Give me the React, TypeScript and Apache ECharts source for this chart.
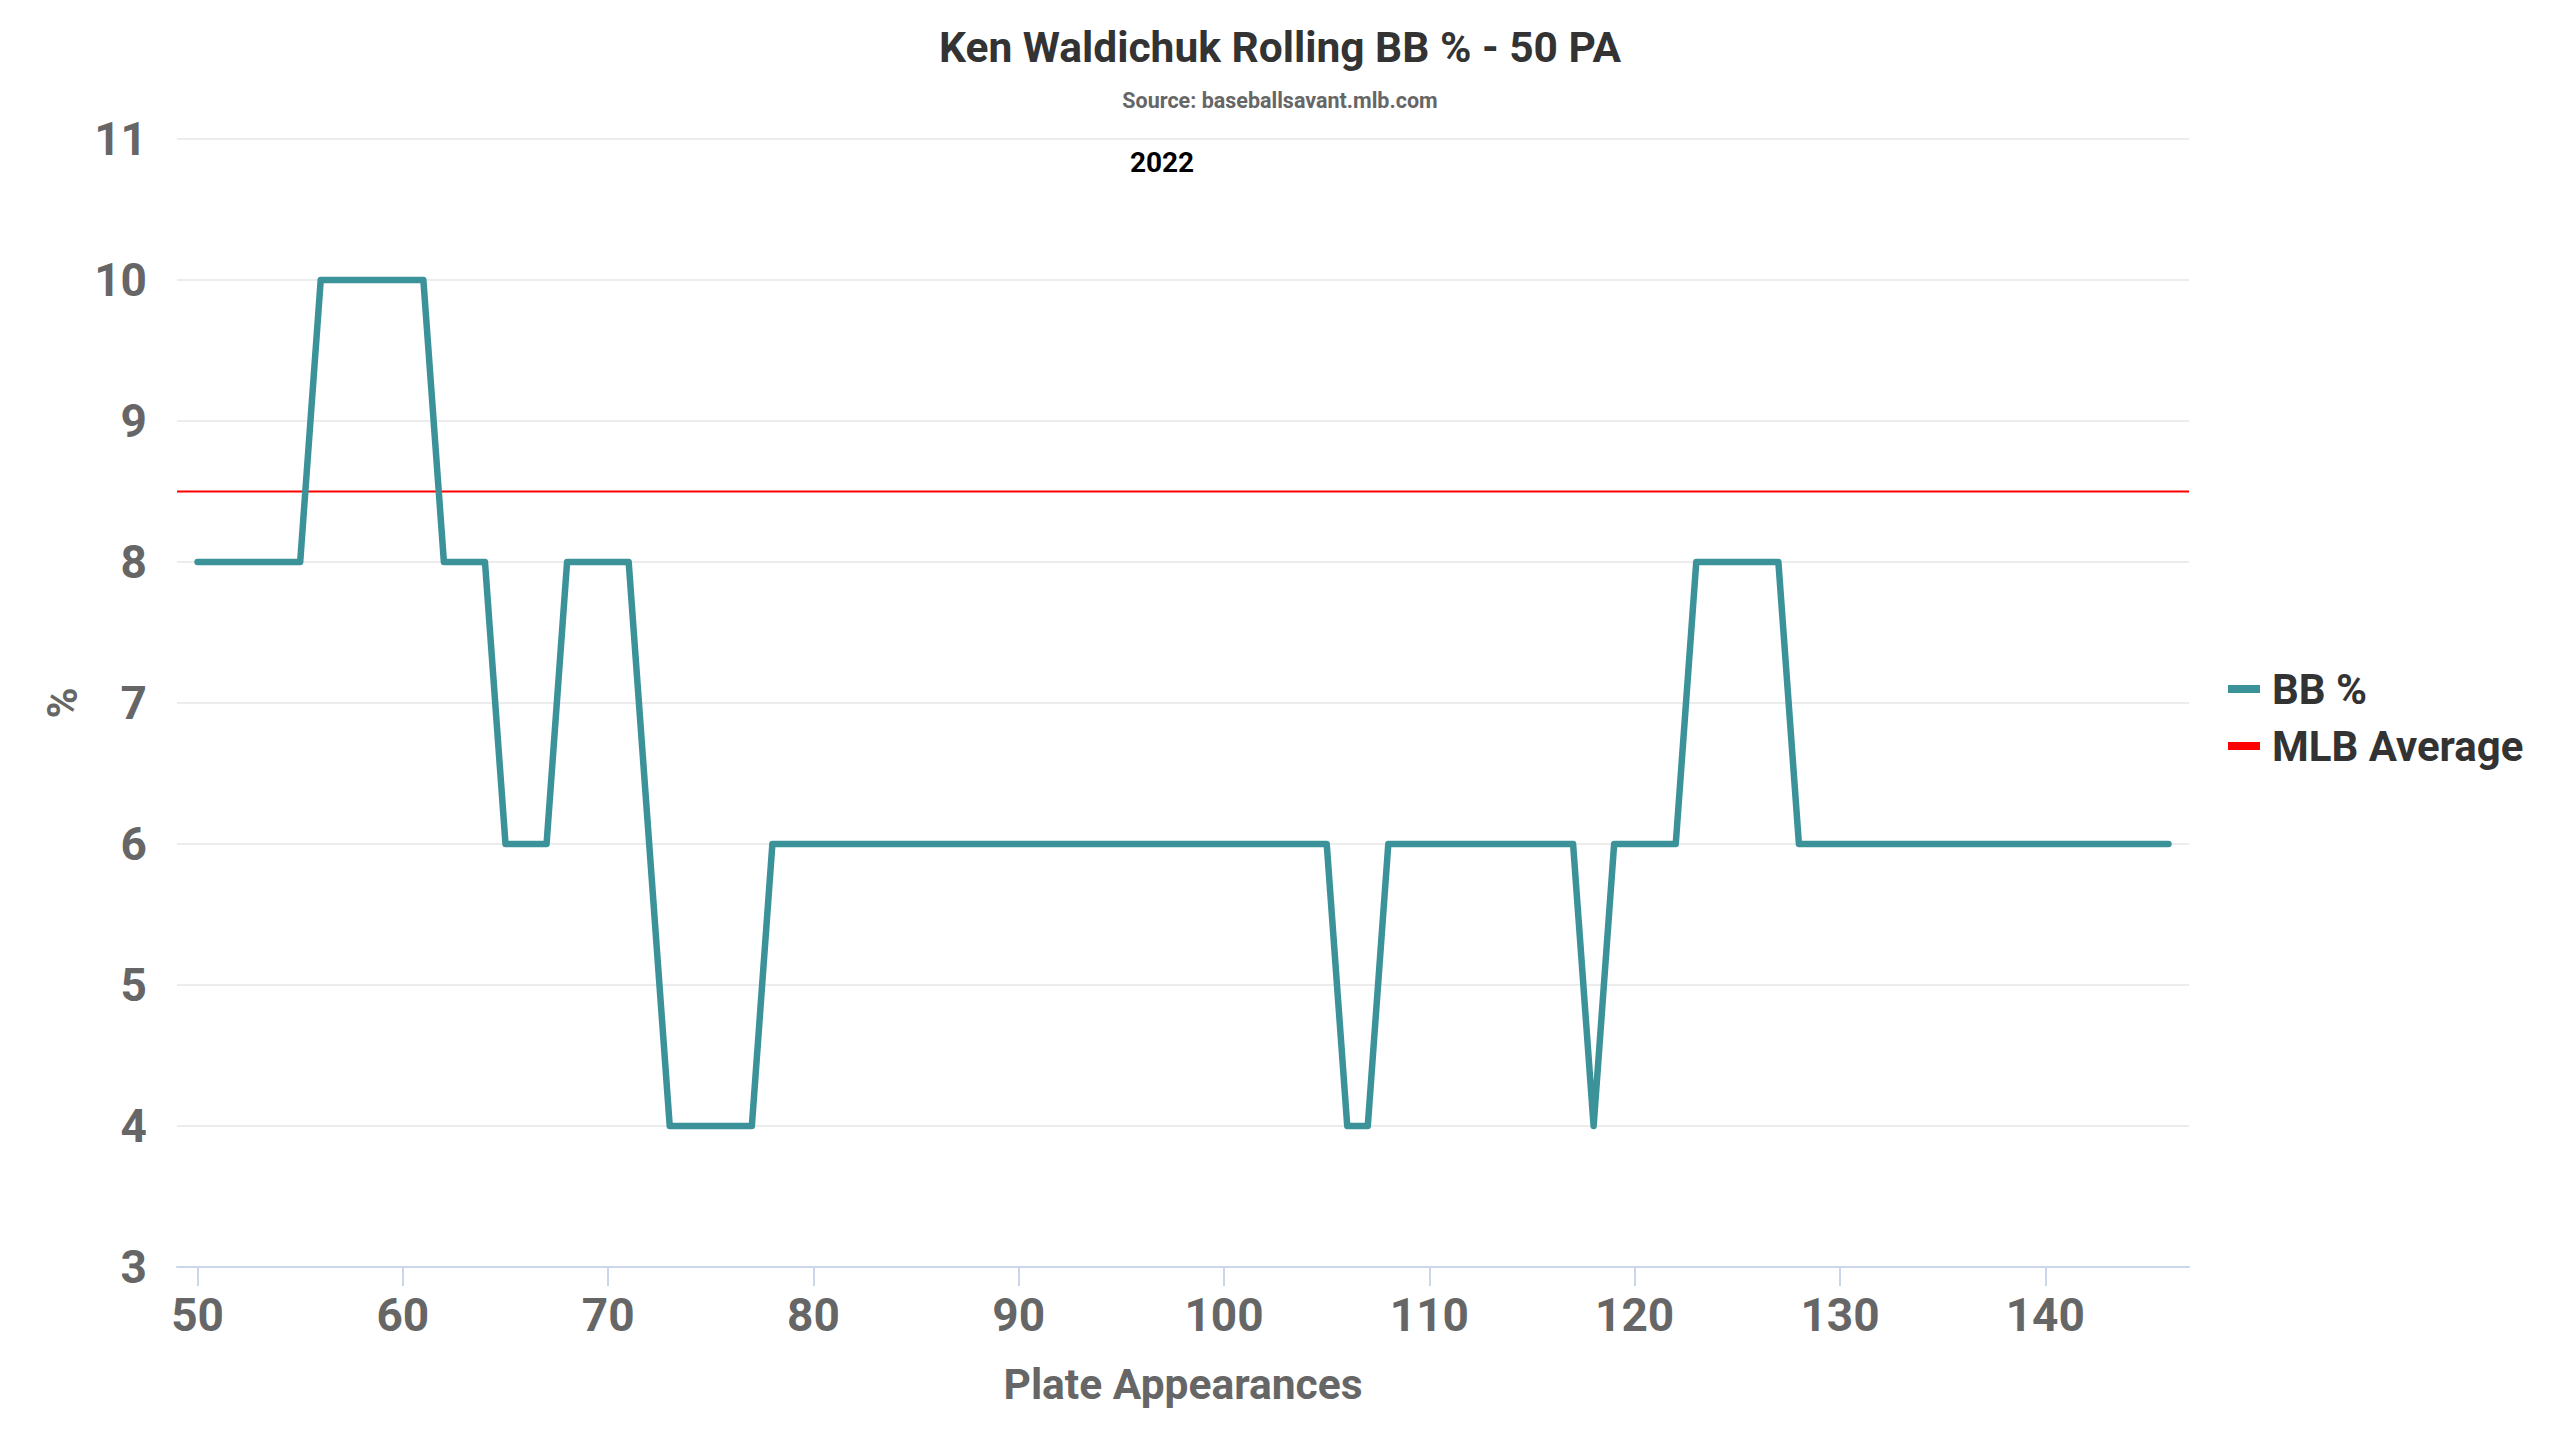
import React, { useEffect, useRef } from "react";
import * as echarts from "echarts";

const TITLE = "Ken Waldichuk Rolling BB % - 50 PA";
const SUBTITLE = "Source: baseballsavant.mlb.com";
const SEASON = "2022";
const SERIES_NAME = "BB %";
const AVG_NAME = "MLB Average";
const X_NAME = "Plate Appearances";
const Y_NAME = "%";

const PLATE_APPEARANCES = [
  50, 51, 52, 53, 54, 55, 56, 57, 58, 59, 60, 61, 62, 63, 64, 65, 66, 67, 68, 69,
  70, 71, 72, 73, 74, 75, 76, 77, 78, 79, 80, 81, 82, 83, 84, 85, 86, 87, 88, 89,
  90, 91, 92, 93, 94, 95, 96, 97, 98, 99, 100, 101, 102, 103, 104, 105, 106, 107, 108, 109,
  110, 111, 112, 113, 114, 115, 116, 117, 118, 119, 120, 121, 122, 123, 124, 125, 126, 127, 128, 129,
  130, 131, 132, 133, 134, 135, 136, 137, 138, 139, 140, 141, 142, 143, 144, 145, 146,
];

const BB_PCT = [
  8, 8, 8, 8, 8, 8, 10, 10, 10, 10, 10, 10, 8, 8, 8, 6, 6, 6, 8, 8,
  8, 8, 6, 4, 4, 4, 4, 4, 6, 6, 6, 6, 6, 6, 6, 6, 6, 6, 6, 6,
  6, 6, 6, 6, 6, 6, 6, 6, 6, 6, 6, 6, 6, 6, 6, 6, 4, 4, 6, 6,
  6, 6, 6, 6, 6, 6, 6, 6, 4, 6, 6, 6, 6, 8, 8, 8, 8, 8, 6, 6,
  6, 6, 6, 6, 6, 6, 6, 6, 6, 6, 6, 6, 6, 6, 6, 6, 6,
];

const MLB_AVERAGE = 8.5;

const X_MIN = 49;
const X_MAX = 147;
const X_TICKS = [50, 60, 70, 80, 90, 100, 110, 120, 130, 140];
const Y_MIN = 3;
const Y_MAX = 11;

const FONT = "Roboto";

export default function App() {
  const ref = useRef<HTMLDivElement>(null);

  useEffect(() => {
    document.body.style.margin = "0";
    if (!ref.current) return;
    const chart = echarts.init(ref.current, undefined, { renderer: "svg" });

    const bbData = PLATE_APPEARANCES.map((pa, i) => [pa, BB_PCT[i]]);
    const avgData = [
      [X_MIN, MLB_AVERAGE],
      [X_MAX, MLB_AVERAGE],
    ];

    chart.setOption({
      animation: false,
      backgroundColor: "#ffffff",
      textStyle: { fontFamily: FONT },
      title: [
        {
          text: TITLE,
          left: "center",
          top: 21,
          textStyle: { fontFamily: FONT, fontSize: 42.5, fontWeight: "bold", color: "#333333" },
        },
        {
          text: SUBTITLE,
          left: "center",
          top: 84,
          textStyle: { fontFamily: FONT, fontSize: 21.5, fontWeight: "bold", color: "#666666" },
        },
      ],
      graphic: [
        {
          type: "text",
          x: 1162,
          y: 162,
          style: {
            text: SEASON,
            font: `bold 28px ${FONT}`,
            fill: "#000000",
            align: "center",
            verticalAlign: "middle",
          },
        },
      ],
      legend: {
        orient: "vertical",
        left: 2223,
        top: 663,
        itemWidth: 32,
        itemHeight: 8,
        itemGap: 15,
        icon: "rect",
        data: [SERIES_NAME, AVG_NAME],
        textStyle: { fontFamily: FONT, fontSize: 42, fontWeight: "bold", color: "#333333", padding: [0, 0, 0, 7] },
      },
      grid: { left: 177, right: 371, top: 139, bottom: 173, containLabel: false },
      xAxis: {
        type: "value",
        min: X_MIN,
        max: X_MAX,
        name: X_NAME,
        nameLocation: "middle",
        nameGap: 96,
        nameTextStyle: { fontFamily: FONT, fontSize: 42.5, fontWeight: "bold", color: "#666666" },
        axisLine: { show: true, lineStyle: { color: "#ccd6eb", width: 2 } },
        axisTick: { show: true, length: 19, customValues: X_TICKS, lineStyle: { color: "#ccd6eb", width: 2 } },
        axisLabel: {
          customValues: X_TICKS,
          margin: 25,
          fontFamily: FONT,
          fontSize: 46,
          fontWeight: "bold",
          color: "#666666",
        },
        splitLine: { show: false },
      },
      yAxis: {
        type: "value",
        min: Y_MIN,
        max: Y_MAX,
        interval: 1,
        name: Y_NAME,
        nameLocation: "middle",
        nameGap: 94,
        nameTextStyle: { fontFamily: FONT, fontSize: 42, fontWeight: "bold", color: "#666666" },
        axisLine: { show: false },
        axisTick: { show: false },
        axisLabel: { margin: 30, fontFamily: FONT, fontSize: 46, fontWeight: "bold", color: "#666666" },
        splitLine: { show: true, lineStyle: { color: "#e6e6e6", width: 1.6 } },
      },
      series: [
        {
          name: AVG_NAME,
          type: "line",
          data: avgData,
          symbol: "none",
          z: 2,
          lineStyle: { color: "#ff0000", width: 2 },
          itemStyle: { color: "#ff0000" },
        },
        {
          name: SERIES_NAME,
          type: "line",
          data: bbData,
          symbol: "none",
          z: 3,
          lineStyle: { color: "#3c9299", width: 6.5, cap: "round", join: "round" },
          itemStyle: { color: "#3c9299" },
        },
      ],
    });

    return () => chart.dispose();
  }, []);

  return <div ref={ref} style={{ width: 2560, height: 1440 }} />;
}
